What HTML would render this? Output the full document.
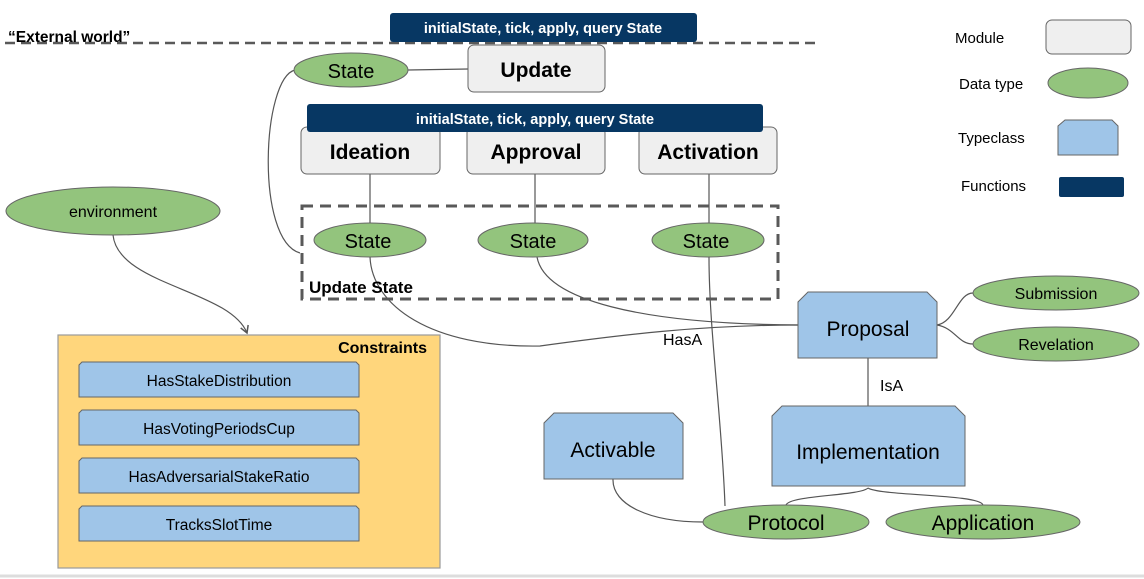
<!DOCTYPE html>
<html><head><meta charset="utf-8"><style>
html,body{margin:0;padding:0;background:#fff;}
svg{display:block;font-family:"Liberation Sans",Arial,sans-serif;}
</style></head><body>
<svg width="1144" height="579" viewBox="0 0 1144 579" xmlns="http://www.w3.org/2000/svg">
<defs>
<marker id="ar" markerWidth="10" markerHeight="10" refX="8" refY="5" orient="auto" markerUnits="userSpaceOnUse">
<path d="M1,1 L8,5 L1,9" fill="none" stroke="#555" stroke-width="1.5"/>
</marker>
</defs>
<rect x="0" y="0" width="1144" height="579" fill="#fff"/>
<line x1="0" y1="576" x2="1144" y2="576" stroke="#ddd" stroke-width="3"/>

<g fill="none" stroke="#555" stroke-width="1.2">
<line x1="408" y1="70" x2="468" y2="69"/>
<path d="M295,70 C262,78 255,240 300,253"/>
<line x1="370" y1="174" x2="370" y2="223"/>
<line x1="535" y1="174" x2="535" y2="223"/>
<line x1="709" y1="174" x2="709" y2="223"/>
<path d="M113,235 C118,285 230,290 247,333" marker-end="url(#ar)"/>
<path d="M370,257 C372,305 430,348 540,346 C620,335 700,325 798,325"/>
<path d="M537,257 C545,300 640,324 798,325"/>
<path d="M709,257 C709,330 722,420 725,506"/>
<path d="M937,325 C955,322 958,293 973,293"/>
<path d="M937,325 C955,328 958,344 973,344"/>
<line x1="868" y1="358" x2="868" y2="406"/>
<path d="M868,488 C860,496 790,495 786,505"/>
<path d="M868,488 C880,496 980,494 983,505"/>
<path d="M613,479 C612,505 650,522 703,522"/>
</g>

<line x1="5" y1="43" x2="820" y2="43" stroke="#595959" stroke-width="2.5" stroke-dasharray="10,6"/>
<text x="8" y="42" font-size="15.5" font-weight="bold">“External world”</text>
<rect x="390" y="13" width="307" height="29" rx="3" fill="#073763"/>
<text x="543" y="33" font-size="14.5" font-weight="bold" fill="#fff" text-anchor="middle">initialState, tick, apply, query State</text>

<rect x="468" y="45" width="137" height="47" rx="6" fill="#efefef" stroke="#666"/>
<text x="536" y="77" font-size="21" font-weight="bold" text-anchor="middle">Update</text>
<ellipse cx="351" cy="70" rx="57" ry="17" fill="#93c47d" stroke="#666"/>
<text x="351" y="78" font-size="20" text-anchor="middle">State</text>

<g fill="#efefef" stroke="#666">
<rect x="301" y="127" width="139" height="47" rx="6"/>
<rect x="467" y="127" width="138" height="47" rx="6"/>
<rect x="639" y="127" width="138" height="47" rx="6"/>
</g>
<rect x="307" y="104" width="456" height="28" rx="3" fill="#073763"/>
<text x="535" y="124" font-size="14.5" font-weight="bold" fill="#fff" text-anchor="middle">initialState, tick, apply, query State</text>
<g font-size="21" font-weight="bold" text-anchor="middle">
<text x="370" y="159">Ideation</text>
<text x="536" y="159">Approval</text>
<text x="708" y="159">Activation</text>
</g>

<rect x="302" y="206" width="476" height="93" fill="none" stroke="#595959" stroke-width="3" stroke-dasharray="11,7"/>
<g fill="#93c47d" stroke="#666">
<ellipse cx="370" cy="240" rx="56" ry="17"/>
<ellipse cx="533" cy="240" rx="55" ry="17"/>
<ellipse cx="708" cy="240" rx="56" ry="17"/>
</g>
<g font-size="20" text-anchor="middle">
<text x="368" y="248">State</text>
<text x="533" y="248">State</text>
<text x="706" y="248">State</text>
</g>
<text x="309" y="293" font-size="17" font-weight="bold">Update State</text>

<ellipse cx="113" cy="211" rx="107" ry="24" fill="#93c47d" stroke="#666"/>
<text x="113" y="217" font-size="16" text-anchor="middle">environment</text>

<rect x="58" y="335" width="382" height="233" fill="#ffd67c" stroke="#999" stroke-width="1.2"/>
<text x="427" y="353" font-size="16" font-weight="bold" text-anchor="end">Constraints</text>
<g fill="#9fc5e8" stroke="#666">
<path d="M82,362 H356 L359,365 V397 H79 V365 Z"/>
<path d="M82,410 H356 L359,413 V445 H79 V413 Z"/>
<path d="M82,458 H356 L359,461 V493 H79 V461 Z"/>
<path d="M82,506 H356 L359,509 V541 H79 V509 Z"/>
</g>
<g font-size="15.5" text-anchor="middle">
<text x="219" y="386">HasStakeDistribution</text>
<text x="219" y="434">HasVotingPeriodsCup</text>
<text x="219" y="482">HasAdversarialStakeRatio</text>
<text x="219" y="530">TracksSlotTime</text>
</g>

<g fill="#9fc5e8" stroke="#666">
<path d="M808,292 H927 L937,302 V358 H798 V302 Z"/>
<path d="M782,406 H955 L965,416 V486 H772 V416 Z"/>
<path d="M554,413 H673 L683,423 V479 H544 V423 Z"/>
</g>
<g font-size="21" text-anchor="middle">
<text x="868" y="336">Proposal</text>
<text x="868" y="459">Implementation</text>
<text x="613" y="457">Activable</text>
</g>
<text x="663" y="345" font-size="16">HasA</text>
<text x="880" y="391" font-size="16">IsA</text>

<g fill="#93c47d" stroke="#666">
<ellipse cx="1056" cy="293" rx="83" ry="17"/>
<ellipse cx="1056" cy="344" rx="83" ry="17"/>
<ellipse cx="786" cy="522" rx="83" ry="17"/>
<ellipse cx="983" cy="522" rx="97" ry="17"/>
</g>
<g text-anchor="middle">
<text x="1056" y="299" font-size="16">Submission</text>
<text x="1056" y="350" font-size="16">Revelation</text>
<text x="786" y="530" font-size="21">Protocol</text>
<text x="983" y="530" font-size="21">Application</text>
</g>

<g font-size="15">
<text x="955" y="43">Module</text>
<text x="959" y="89">Data type</text>
<text x="958" y="143">Typeclass</text>
<text x="961" y="191">Functions</text>
</g>
<rect x="1046" y="20" width="85" height="34" rx="6" fill="#efefef" stroke="#666"/>
<ellipse cx="1088" cy="83" rx="40" ry="15" fill="#93c47d" stroke="#666"/>
<path d="M1065,120 H1112 L1118,126 V155 H1058 V126 Z" fill="#9fc5e8" stroke="#666"/>
<rect x="1059" y="177" width="65" height="20" rx="2" fill="#073763"/>
</svg>
</body></html>
